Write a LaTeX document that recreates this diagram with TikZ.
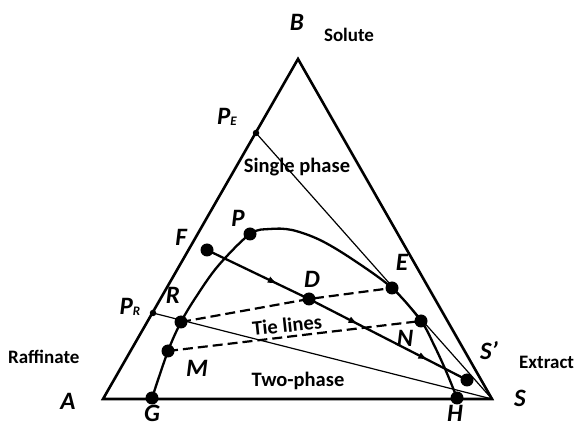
\documentclass[tikz,border=0pt]{standalone}
\usepackage{fontspec}
\setmainfont{Carlito}
\usetikzlibrary{arrows.meta,positioning,decorations.markings}
\newcommand{\subtxt}[1]{\raisebox{-1.5pt}{\fontsize{13}{13}\selectfont #1}}
\tikzset{
  side/.style={line width=2.6pt,line join=miter},
  binodal/.style={line width=2.3pt},
  tieline/.style={line width=2.2pt,dash pattern=on 10pt off 5pt},
  guide/.style={line width=1.2pt},
  flow/.style={line width=2.3pt,postaction={decorate},
    decoration={markings,
      mark=at position 0.27 with {\arrow{Latex[length=10pt,width=7pt]}},
      mark=at position 0.58 with {\arrow{Latex[length=10pt,width=7pt]}},
      mark=at position 0.85 with {\arrow{Latex[length=10pt,width=7pt]}}}},
  bigdot/.style={circle,fill,inner sep=0pt,minimum size=13pt},
  smalldot/.style={circle,fill,inner sep=0pt,minimum size=6.5pt},
  letter/.style={font=\fontsize{25}{25}\selectfont\bfseries\itshape,inner sep=0pt},
  phase/.style={font=\fontsize{20.5}{20.5}\selectfont\bfseries,inner sep=0pt},
  corner/.style={font=\fontsize{19}{19}\selectfont\bfseries,inner sep=0pt}
}

\begin{document}
\begin{tikzpicture}[x=1pt,y=-1pt]
  \useasboundingbox (0,0) rectangle (576,427);
  % corners of the diagram
  \coordinate (A) at (103,399);
  \coordinate (S) at (492,399);
  \coordinate (B) at (298,59);
  % points
  \node[smalldot] (PE) at (256,133) {};
  \node[smalldot] (PR) at (153,313) {};
  \node[bigdot] (G) at (152,398) {};
  \node[bigdot] (M) at (168,351) {};
  \node[bigdot] (R) at (181,322) {};
  \node[bigdot] (P) at (250,234) {};
  \node[bigdot] (F) at (207,250) {};
  \node[bigdot] (D) at (309,299) {};
  \node[bigdot] (E) at (392,288) {};
  \node[bigdot] (N) at (421,321) {};
  \node[bigdot] (Sp) at (467,380) {};
  \node[bigdot] (H) at (457,398) {};

  \draw[side] (A) -- (S) -- (B) -- cycle;
  \draw[guide] (PE.center) -- (S);
  \draw[guide] (PR.center) -- (S);
  \draw[binodal] plot[smooth,tension=0.55] coordinates {(G.center) (M.center) (R.center)
    (196,297) (218,266) (P.center) (270,229) (292,230) (320,240) (352,259)
    (E.center) (N.center) (434,345) (446,371) (H.center)};
  \draw[tieline] (R.center) -- (D.center) -- (E.center);
  \draw[tieline] (M.center) -- (N.center);
  \draw[flow] (F.center) -- (D.center) -- (Sp.center);

  % labels
  \node[letter] (labB) at (297,22) {B};
  \node[letter] (labA) at (68,401) {A};
  \node[letter] (labS) at (520,398) {S};
  \node[letter] (labG) at (152,413) {G};
  \node[letter] (labH) at (455,413) {H};
  \node[letter] (labPE) at (227,117) {P\subtxt{E}};
  \node[letter] (labPR) at (130,307) {P\subtxt{R}};
  \node[letter] (labF) at (181,237) {F};
  \node[letter] (labP) at (238,218) {P};
  \node[letter] (labD) at (312,279) {D};
  \node[letter] (labE) at (402,262) {E};
  \node[letter] (labR) at (173,295) {R};
  \node[letter] (labN) at (405,338) {N};
  \node[letter] (labM) at (197,368) {M};
  \node[letter] (labSp) at (489,351) {S’};
  \node[corner] (solute) at (349,35) {Solute};
  \node[corner,anchor=west] (raff) at (8,357) {Raffinate};
  \node[corner,anchor=west] (extr) at (519,362) {Extract};
  \node[phase] (single) at (297,167) {Single phase};
  \node[phase,rotate=6] (tie) at (287,325) {Tie lines};
  \node[phase] (two) at (298,381) {Two-phase};
\end{tikzpicture}
\end{document}
